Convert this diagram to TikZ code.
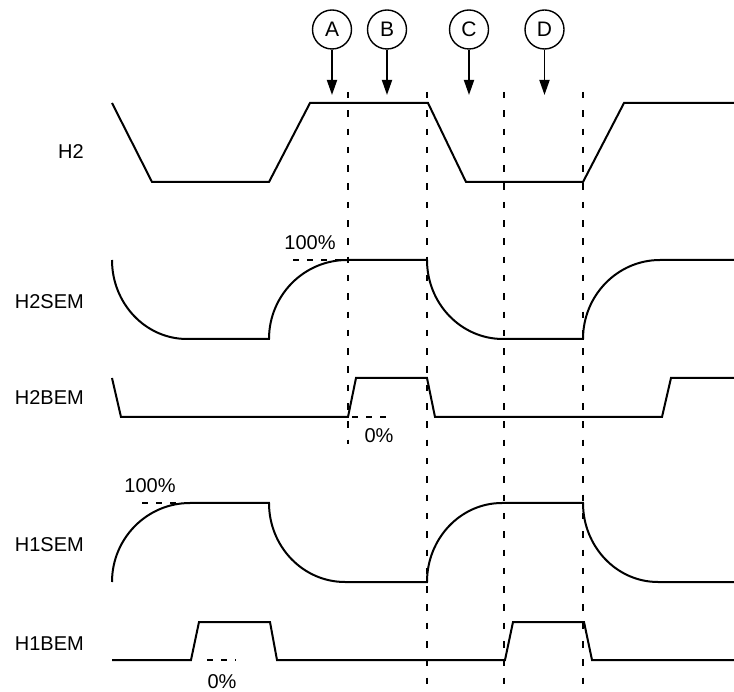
\documentclass[tikz,border=0pt]{standalone}
\usepackage{fontspec}
\setmainfont{Liberation Sans}
\usetikzlibrary{arrows.meta}
\begin{document}
\begin{tikzpicture}[x=1pt,y=-1pt,
  every node/.style={font=\fontsize{20}{24}\selectfont},
  wave/.style={line width=2pt},
  vguide/.style={line width=2pt, dash pattern=on 6.5pt off 11.8pt},
  hguide/.style={line width=1.8pt, dash pattern=on 6pt off 8pt},
  sig/.style={anchor=base east, inner sep=0pt},
  pct/.style={anchor=base, inner sep=0pt},
  marker/.style={draw, circle, line width=1.4pt, minimum size=39pt, inner sep=0pt, font=\fontsize{21}{24}\selectfont},
  arr/.style={line width=1.8pt, -{Triangle[length=15pt,width=10pt]}}]
\useasboundingbox (0,0) rectangle (734,692);

% signal labels
\node[sig] (lH2) at (84,159) {H2};
\node[sig] (lH2SEM) at (84,309) {H2SEM};
\node[sig] (lH2BEM) at (84,405) {H2BEM};
\node[sig] (lH1SEM) at (84,551) {H1SEM};
\node[sig] (lH1BEM) at (84,650) {H1BEM};

% markers
\node[marker] (A) at (332,29.5) {A};
\node[marker] (B) at (387,29.5) {B};
\node[marker] (C) at (469,29.5) {C};
\node[marker] (D) at (544.5,29.5) {D};
\coordinate (tA) at (332,95);
\coordinate (tB) at (387,95);
\coordinate (tC) at (469,95);
\coordinate (tD) at (544.5,95);
\draw[arr] (A) -- (tA);
\draw[arr] (B) -- (tB);
\draw[arr] (C) -- (tC);
\draw[arr] (D) -- (tD);

% vertical guides
\draw[vguide] (348,92) -- (348,444);
\draw[vguide] (427,92) -- (427,690);
\draw[vguide] (504,92) -- (504,690);
\draw[vguide] (583,92) -- (583,690);

% H2
\draw[wave] (112,103) -- (152,182) -- (269,182) -- (310,103) -- (428,103)
  -- (466,182) -- (583,182) -- (624,103) -- (734,103);

% H2SEM
\draw[wave] (112,260) .. controls (112,303.6) and (145.6,339) .. (187,339) -- (269,339)
  .. controls (269,295.4) and (303.9,260) .. (347,260) -- (427,260)
  .. controls (427,303.6) and (461,339) .. (503,339) -- (583,339)
  .. controls (583,295.4) and (617.5,260) .. (660,260) -- (734,260);
\draw[hguide] (293,260) -- (347,260);
\node[pct] (p100a) at (310,250) {100\%};

% H2BEM
\draw[wave] (112,378) -- (121,417) -- (348,417) -- (356,378) -- (427,378)
  -- (435,417) -- (662,417) -- (671,378) -- (734,378);
\draw[hguide] (352,417) -- (392,417);
\node[pct] (p0a) at (379,443) {0\%};

% H1SEM
\draw[wave] (112,582) .. controls (112,538.4) and (146.9,503) .. (190,503) -- (269,503)
  .. controls (269,546.6) and (303,582) .. (345,582) -- (427,582)
  .. controls (427,538.4) and (460.6,503) .. (502,503) -- (583,503)
  .. controls (583,546.6) and (616.6,582) .. (658,582) -- (734,582);
\draw[hguide] (142,503) -- (190,503);
\node[pct] (p100b) at (150,493) {100\%};

% H1BEM
\draw[wave] (112,660) -- (191,660) -- (199,622) -- (270,622) -- (277,660)
  -- (505,660) -- (513,622) -- (584,622) -- (592,660) -- (734,660);
\draw[hguide] (207,660) -- (236,660);
\node[pct] (p0b) at (222,688) {0\%};
\end{tikzpicture}
\end{document}
